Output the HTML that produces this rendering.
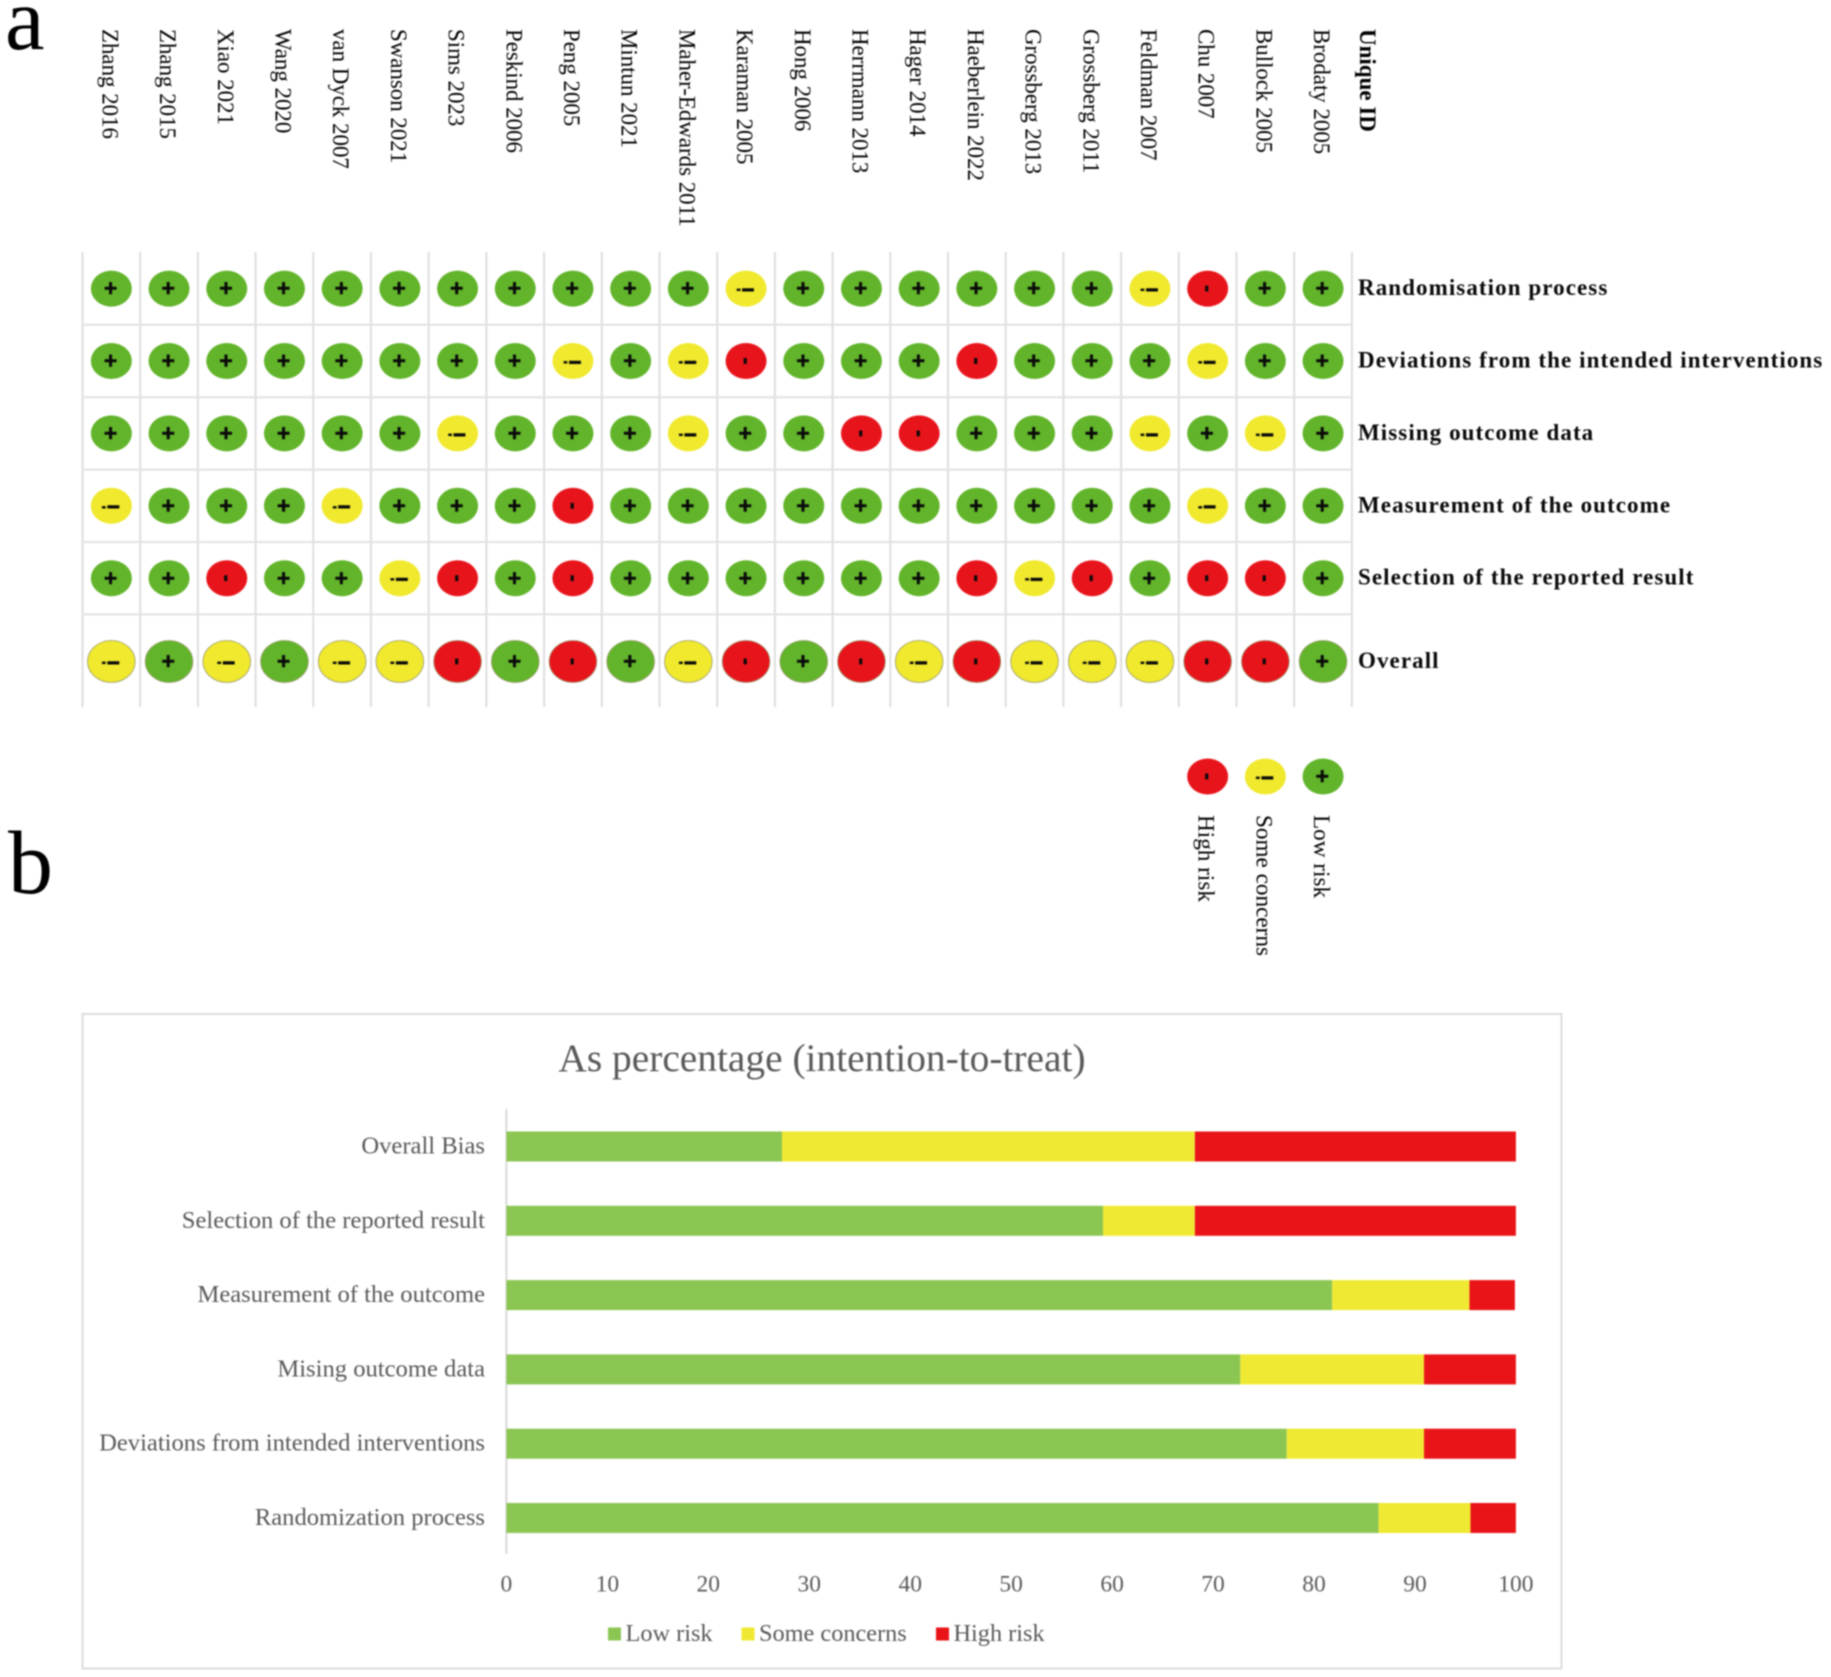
<!DOCTYPE html>
<html lang="en">
<head>
<meta charset="utf-8">
<title>Risk of bias assessment</title>
<style>
  html, body { margin: 0; padding: 0; background: #fff; }
  body { width: 1831px; height: 1677px; overflow: hidden; }
  #figure { display: block; filter: blur(0.7px); font-family: "Liberation Serif", serif; }
</style>
</head>
<body>
<svg id="figure" xmlns="http://www.w3.org/2000/svg" width="1831" height="1677" viewBox="0 0 1831 1677">
  <rect width="1831" height="1677" fill="#fff"/>
  <text x="5" y="49" font-size="89" fill="#000">a</text>
  <text x="8" y="893" font-size="90" fill="#000">b</text>
  <g id="traffic-light"></g>
  <g id="summary">
    <rect x="82.5" y="1014" width="1479" height="654.5" fill="#fff" stroke="#dddddd" stroke-width="2"/>
    <text x="822" y="1071" font-size="39.4" fill="#595959" text-anchor="middle">As percentage (intention-to-treat)</text>
  </g>
</svg>
<script>
// ---- Panel a data ----
const studies = ["Zhang 2016", "Zhang 2015", "Xiao 2021", "Wang 2020", "van Dyck 2007", "Swanson 2021", "Sims 2023", "Peskind 2006", "Peng 2005", "Mintun 2021", "Maher-Edwards 2011", "Karaman 2005", "Hong 2006", "Herrmann 2013", "Hager 2014", "Haeberlein 2022", "Grossberg 2013", "Grossberg 2011", "Feldman 2007", "Chu 2007", "Bullock 2005", "Brodaty 2005"];
const domains = ["Randomisation process", "Deviations from the intended interventions", "Missing outcome data", "Measurement of the outcome", "Selection of the reported result", "Overall"];
const randomisationRisk = ["L","L","L","L","L","L","L","L","L","L","L","S","L","L","L","L","L","L","S","H","L","L"];
const deviationsRisk    = ["L","L","L","L","L","L","L","L","S","L","S","H","L","L","L","H","L","L","L","S","L","L"];
const missingRisk       = ["L","L","L","L","L","L","S","L","L","L","S","L","L","H","H","L","L","L","S","L","S","L"];
const measurementRisk   = ["S","L","L","L","S","L","L","L","H","L","L","L","L","L","L","L","L","L","L","S","L","L"];
const selectionRisk     = ["L","L","H","L","L","S","H","L","H","L","L","L","L","L","L","H","S","H","L","H","H","L"];
const overallRisk       = ["S","L","S","L","S","S","H","L","H","L","S","H","L","H","S","H","S","S","S","H","H","L"];
const riskLegendKeys = ["H", "S", "L"];
const riskLegendLabels = ["High risk", "Some concerns", "Low risk"];

// ---- Panel b data ----
const categories = ["Overall Bias", "Selection of the reported result", "Measurement of the outcome", "Mising outcome data", "Deviations from intended interventions", "Randomization process"];
const lowRisk = [27.3, 59.1, 81.8, 72.7, 77.3, 86.4];
const someConcerns = [40.9, 9.1, 13.6, 18.2, 13.6, 9.1];
const highRisk = [31.8, 31.8, 4.5, 9.1, 9.1, 4.5];
const xTicks = [0, 10, 20, 30, 40, 50, 60, 70, 80, 90, 100];
const seriesLabels = ["Low risk", "Some concerns", "High risk"];

const NS = "http://www.w3.org/2000/svg";
function mk(parent, tag, attrs, txt) {
  const n = document.createElementNS(NS, tag);
  for (const k in attrs) n.setAttribute(k, attrs[k]);
  if (txt !== undefined) n.textContent = txt;
  parent.appendChild(n);
  return n;
}

// ---- Traffic light plot ----
const tl = document.getElementById("traffic-light");
const riskRows = [randomisationRisk, deviationsRisk, missingRisk, measurementRisk, selectionRisk, overallRisk];
const riskFill = { L: "#62b42a", S: "#f0e92e", H: "#e8141c" };
const colX = i => 82.5 + (i + 0.5) * 57.7;
const lineX = i => 82.5 + i * 57.7;
const rowY = i => i < 5 ? 288.6 + i * 72.4 : 661.5;
const lineY = i => 324.8 + i * 72.4;

function drawSymbol(parent, key, cx, cy) {
  const symbolStyle = { "font-weight": "bold", "font-family": "Liberation Sans, sans-serif", "text-anchor": "middle", fill: "#0a0a0a", stroke: "#0a0a0a" };
  if (key === "L") {
    const el = mk(parent, "text", Object.assign({ x: cx - 0.8, y: cy + 7.6, "font-size": 23, "stroke-width": 0.5 }, symbolStyle), "+");
    
    
  } else if (key === "S") {
    const dot = mk(parent, "text", Object.assign({ x: cx - 7.5, y: cy + 4, "font-size": 11, "stroke-width": 1 }, symbolStyle), "-");
    
    
    const dash = mk(parent, "text", Object.assign({ x: cx + 2, y: cy + 7.4, "font-size": 22, "stroke-width": 1 }, symbolStyle), "\u2013");
    
    
  } else {
    const tick = mk(parent, "text", Object.assign({ transform: "translate(" + (cx - 0.5) + "," + cy + ") rotate(90)", x: 0, y: 5.6, "font-size": 20, "stroke-width": 0.8 }, symbolStyle), "-");
    
    
  }
}

function drawCircle(parent, key, cx, cy, big) {
  const c = mk(parent, "ellipse", { cx: cx, cy: cy, rx: big ? 23.8 : 20.5, ry: big ? 21 : 18, fill: riskFill[key], stroke: big ? "#9a9a70" : "none", "stroke-width": big ? 0.8 : 0 });
  
  
  drawSymbol(parent, key, cx, cy);
}

for (let i = 0; i <= studies.length; i++) {
  const v = mk(tl, "line", { x1: lineX(i), x2: lineX(i), y1: 252, y2: 707, stroke: "#dedede", "stroke-width": 2 });
  
  
}
for (let i = 0; i < 5; i++) {
  const h = mk(tl, "line", { x1: 82, x2: 1352, y1: lineY(i), y2: lineY(i), stroke: "#e2e2e2", "stroke-width": 2 });
  
  
}

function vertText(parent, x, y, s, size, bold) {
  const t = mk(parent, "text", { transform: "translate(" + x + "," + y + ") rotate(90)", x: 0, y: 0, "font-size": size, "font-weight": bold ? "bold" : "normal", fill: "#000" }, s);
  return t;
}

studies.forEach((s, i) => {
  const t = vertText(tl, colX(i) - 9, 29, s, 22.9, false);
  
  
});
const uid = vertText(tl, 1360, 29, "Unique ID", 23, true);



riskRows.forEach((row, r) => {
  row.forEach((key, c) => drawCircle(tl, key, colX(c), rowY(r), r === 5));
  const t = mk(tl, "text", { x: 1358, y: rowY(r) + 6.5, "font-size": 23, "font-weight": "bold", "letter-spacing": 1.08, fill: "#0a0a0a" }, domains[r]);
  
  
});

riskLegendKeys.forEach((key, i) => {
  const cx = colX(19 + i);
  drawCircle(tl, key, cx, 776.5, false);
  const t = vertText(tl, cx - 9, 815, riskLegendLabels[i], 23.2, false);
  
  
});

// ---- Stacked bar chart ----
const sm = document.getElementById("summary");
const barColors = ["#8bc653", "#f0e933", "#e91418"];
const xScale = v => 506.4 + v * 10.095;
const bandCenter = i => 1146.5 + i * 74.3;
const barH = 30;
const gray = "#595959";

const axis = mk(sm, "line", { x1: 506.4, x2: 506.4, y1: 1109, y2: 1554, stroke: "#d9d9d9", "stroke-width": 2 });



categories.forEach((cat, i) => {
  const y = bandCenter(i);
  const label = mk(sm, "text", { x: 485, y: y + 7, "font-size": 24.6, fill: gray, "text-anchor": "end" }, cat);
  
  
  let acc = 0;
  [lowRisk, someConcerns, highRisk].forEach((series, s) => {
    const bar = mk(sm, "rect", { x: xScale(acc), y: y - barH / 2, width: xScale(acc + series[i]) - xScale(acc), height: barH, fill: barColors[s] });
    
    
    acc += series[i];
  });
});

xTicks.forEach(v => {
  const t = mk(sm, "text", { x: xScale(v), y: 1591.5, "font-size": 23.5, fill: gray, "text-anchor": "middle" }, String(v));
  
  
});

const legendStarts = [608, 741.5, 936];
seriesLabels.forEach((lab, i) => {
  const sw = mk(sm, "rect", { x: legendStarts[i], y: 1627.5, width: 13, height: 13, fill: barColors[i] });
  
  
  const t = mk(sm, "text", { x: legendStarts[i] + 17.5, y: 1641, "font-size": 24.3, fill: gray }, lab);
  
  
});
</script>
</body>
</html>
